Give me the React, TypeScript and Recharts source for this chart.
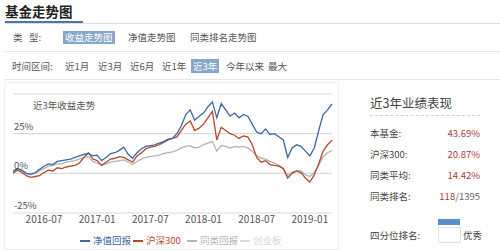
import React from 'react'
import { LineChart, Line, XAxis, YAxis, CartesianGrid } from 'recharts'

// half-monthly samples, 2016-03-15 .. 2019-03-15
const dates = [
  '2016-03-15', '2016-04-01', '2016-04-15', '2016-05-01', '2016-05-15', '2016-06-01', '2016-06-15',
  '2016-07-01', '2016-07-15', '2016-08-01', '2016-08-15', '2016-09-01', '2016-09-15', '2016-10-01',
  '2016-10-15', '2016-11-01', '2016-11-15', '2016-12-01', '2016-12-15',
  '2017-01-01', '2017-01-15', '2017-02-01', '2017-02-15', '2017-03-01', '2017-03-15', '2017-04-01',
  '2017-04-15', '2017-05-01', '2017-05-15', '2017-06-01', '2017-06-15', '2017-07-01', '2017-07-15',
  '2017-08-01', '2017-08-15', '2017-09-01', '2017-09-15', '2017-10-01', '2017-10-15', '2017-11-01',
  '2017-11-15', '2017-12-01', '2017-12-15',
  '2018-01-01', '2018-01-15', '2018-02-01', '2018-02-15', '2018-03-01', '2018-03-15', '2018-04-01',
  '2018-04-15', '2018-05-01', '2018-05-15', '2018-06-01', '2018-06-15', '2018-07-01', '2018-07-15',
  '2018-08-01', '2018-08-15', '2018-09-01', '2018-09-15', '2018-10-01', '2018-10-15', '2018-11-01',
  '2018-11-15', '2018-12-01', '2018-12-15',
  '2019-01-01', '2019-01-15', '2019-02-01', '2019-02-15', '2019-03-01', '2019-03-15',
]

const fundReturn = [
  1.5, 3, 2, 0, -0.5, 0.5, 2.5, 4.5, 6, 5.5, 7.5, 8, 8.5, 9, 10, 11, 12, 12.5, 11,
  11.5, 8, 10, 12.5, 13, 14.5, 16.5, 12, 9.5, 13, 15.5, 17, 17.5, 18, 19, 20, 21.5, 22, 25, 30, 37, 40, 33.5, 36,
  38, 42, 45, 35, 44, 40, 36, 38, 35, 37, 36, 31, 26, 25, 28, 24.5, 25, 23, 21, 10, 16, 18, 17, 14,
  11, 16, 27, 37, 40, 43.7,
]
const hs300 = [
  0, 2, 0.5, -1.5, -2.5, -2, -1.5, 0.5, 2, 1.5, 3.5, 3, 4, 4.5, 5, 6.5, 10, 13, 9,
  8, 5, 7, 9, 9.5, 10.5, 10, 8.5, 7, 11, 13, 15.5, 16.5, 17, 18, 19.5, 21, 22, 23, 27, 31, 33, 27, 28.5,
  31, 35, 39, 21, 29, 27, 25, 24, 22, 23.5, 23, 18, 10, 7, 8, 5.5, 5, 4.5, 3, -3, 0, 1.5, 0.5, -3,
  -5.5, -1, 6, 14, 18, 20.9,
]
const peerReturn = [
  1, 2.5, 1.5, 0, -1, 0, 1.5, 3, 4.5, 5, 6, 6, 7, 7.5, 8, 9, 10, 10.5, 7.5,
  6.5, 5, 6, 7, 7.5, 8, 8.5, 7, 5.5, 7.5, 9, 10, 10.5, 11, 11.5, 12.5, 13, 13.5, 14.5, 16, 17, 17.5, 16, 16.5,
  18, 19, 20, 14, 17.5, 17, 16, 17, 16.5, 17, 16, 14, 11, 9.5, 9, 7.5, 6.5, 5, 3, -1.5, 1, 1.5, 1.5, -1,
  -2, 0.5, 5, 10.5, 13, 14.4,
]

const tickDates = ['2016-07-01', '2017-01-01', '2017-07-01', '2018-01-01', '2018-07-01', '2019-01-01']
const yTicks = [-25, 0, 25, 50]

const seriesNames = ['净值回报', '沪深300', '同类回报', '创业板']
const seriesColors = ['#3a68a6', '#b5482a', '#b4b4b4', '#dcdcdc']

const typeTabs = ['收益走势图', '净值走势图', '同类排名走势图']
const rangeTabs = ['近1月', '近3月', '近6月', '近1年', '近3年', '今年以来', '最大']

const perfLabels = ['本基金:', '沪深300:', '同类平均:']
const perfValues = ['43.69%', '20.87%', '14.42%']
const rankValue = '118'
const rankTotal = '1395'

const chartData = dates.map((d, i) => ({
  date: d,
  fund: fundReturn[i],
  hs300: hs300[i],
  peer: peerReturn[i],
}))

const font = "'Noto Sans CJK SC', 'Noto Sans', sans-serif"
const typeTabX = [63, 128, 190]
const rangeTabX = [65, 98, 130, 162, 191, 226, 268]

const renderYTick = (props: any) => {
  const { y, payload } = props
  if (payload.value === 50) return <g />
  return (
    <text x={14} y={y - 4} fill="#555" fontSize={9.5} fontFamily={font}>
      {payload.value}%
    </text>
  )
}

export default function App() {
  const abs = (left: number, top: number, extra: React.CSSProperties = {}): React.CSSProperties => ({
    position: 'absolute', left, top, whiteSpace: 'nowrap', ...extra,
  })
  return (
    <div style={{ position: 'absolute', left: 0, top: 0, width: 500, height: 250, background: '#fff', fontFamily: font, overflow: 'hidden' }}>
      {/* header */}
      <div style={abs(5, 3, { fontSize: 13.5, fontWeight: 'bold', color: '#222', lineHeight: '17px' })}>基金走势图</div>
      <div style={abs(5, 23, { width: 495, height: 1, background: '#ddd' })} />
      <div style={abs(5, 21, { width: 78, height: 2, background: '#4a76a8' })} />

      <div style={abs(13, 31, { fontSize: 9.5, color: '#555', lineHeight: '13px' })}>类&nbsp;&nbsp;&nbsp;型:</div>
      {typeTabs.map((t, i) => (
        <div key={t} style={abs(typeTabX[i], 31, {
          fontSize: 9.5, lineHeight: '13px', padding: i === 0 ? '0 2px' : 0,
          color: i === 0 ? '#fff' : '#555', background: i === 0 ? '#86a6cb' : 'transparent',
        })}>{t}</div>
      ))}
      <div style={abs(5, 51, { width: 495, height: 1, background: '#e6e6e6' })} />

      <div style={abs(12, 59, { fontSize: 9.5, color: '#555', lineHeight: '14px' })}>时间区间:</div>
      {rangeTabs.map((t, i) => (
        <div key={t} style={abs(rangeTabX[i], 59, {
          fontSize: 9.5, lineHeight: '14px', padding: i === 4 ? '0 2px' : 0,
          color: i === 4 ? '#fff' : '#555', background: i === 4 ? '#86a6cb' : 'transparent',
        })}>{t}</div>
      ))}
      <div style={abs(5, 79, { width: 495, height: 1, background: '#e6e6e6' })} />

      {/* chart panel */}
      <div style={abs(4, 82, { width: 333, height: 166, border: '1px solid #f0f0f0' })} />
      <div style={abs(0, 80)}>
        <LineChart width={340} height={150} data={chartData} margin={{ top: 14, right: 8, left: 12, bottom: 0 }}>
          <CartesianGrid vertical={false} stroke="#d9d9d9" strokeWidth={1.2} />
          <XAxis dataKey="date" ticks={tickDates} tickFormatter={(v: string) => v.slice(0, 7)}
            axisLine={false} tickLine={false} tickSize={0} tickMargin={3} height={17} interval={0}
            tick={{ fill: '#555', fontSize: 10, fontFamily: font }} />
          <YAxis domain={[-25, 50]} ticks={yTicks} width={1} axisLine={false} tickLine={false} tick={renderYTick} interval={0} />
          <Line type="linear" dataKey="peer" stroke={seriesColors[2]} strokeWidth={1.3} dot={false} isAnimationActive={false} />
          <Line type="linear" dataKey="hs300" stroke={seriesColors[1]} strokeWidth={1.3} dot={false} isAnimationActive={false} />
          <Line type="linear" dataKey="fund" stroke={seriesColors[0]} strokeWidth={1.3} dot={false} isAnimationActive={false} />
        </LineChart>
      </div>
      <div style={abs(33, 99, { fontSize: 9.5, color: '#555', lineHeight: '13px' })}>近3年收益走势</div>

      {/* legend */}
      {seriesNames.map((n, i) => (
        <div key={n} style={abs([80, 133, 187, 240][i], 234, { display: 'flex', alignItems: 'center', fontSize: 9.5, lineHeight: '13px', color: i === 3 ? '#d6d6d6' : seriesColors[i] })}>
          <span style={{ display: 'inline-block', width: 10, height: 2, background: seriesColors[i], marginRight: 3 }} />
          {n}
        </div>
      ))}

      {/* right panel */}
      <div style={abs(370, 94, { fontSize: 12.5, color: '#444', lineHeight: '17px' })}>近3年业绩表现</div>
      <div style={abs(370, 115, { width: 110, borderTop: '1px dashed #d0d0d0' })} />
      {perfLabels.map((l, i) => (
        <React.Fragment key={l}>
          <div style={abs(370, 127 + i * 21, { fontSize: 9.5, color: '#444', lineHeight: '13px' })}>{l}</div>
          <div style={abs(400, 127 + i * 21, { width: 80, textAlign: 'right', fontSize: 9.5, color: '#a83a3a', lineHeight: '13px' })}>{perfValues[i]}</div>
        </React.Fragment>
      ))}
      <div style={abs(370, 190, { fontSize: 9.5, color: '#444', lineHeight: '13px' })}>同类排名:</div>
      <div style={abs(400, 190, { width: 80, textAlign: 'right', fontSize: 9.5, color: '#666', lineHeight: '13px' })}>
        <span style={{ color: '#a83a3a' }}>{rankValue}</span>/{rankTotal}
      </div>
      <div style={abs(370, 229, { fontSize: 9.5, color: '#444', lineHeight: '13px' })}>四分位排名:</div>
      <div style={abs(438, 219, { width: 22, height: 6, background: '#5b8fc9' })} />
      <div style={abs(438, 227, { width: 21, height: 14, border: '1px solid #e2e2e2' })} />
      <div style={abs(463, 229, { fontSize: 9.5, color: '#444', lineHeight: '13px' })}>优秀</div>
    </div>
  )
}
